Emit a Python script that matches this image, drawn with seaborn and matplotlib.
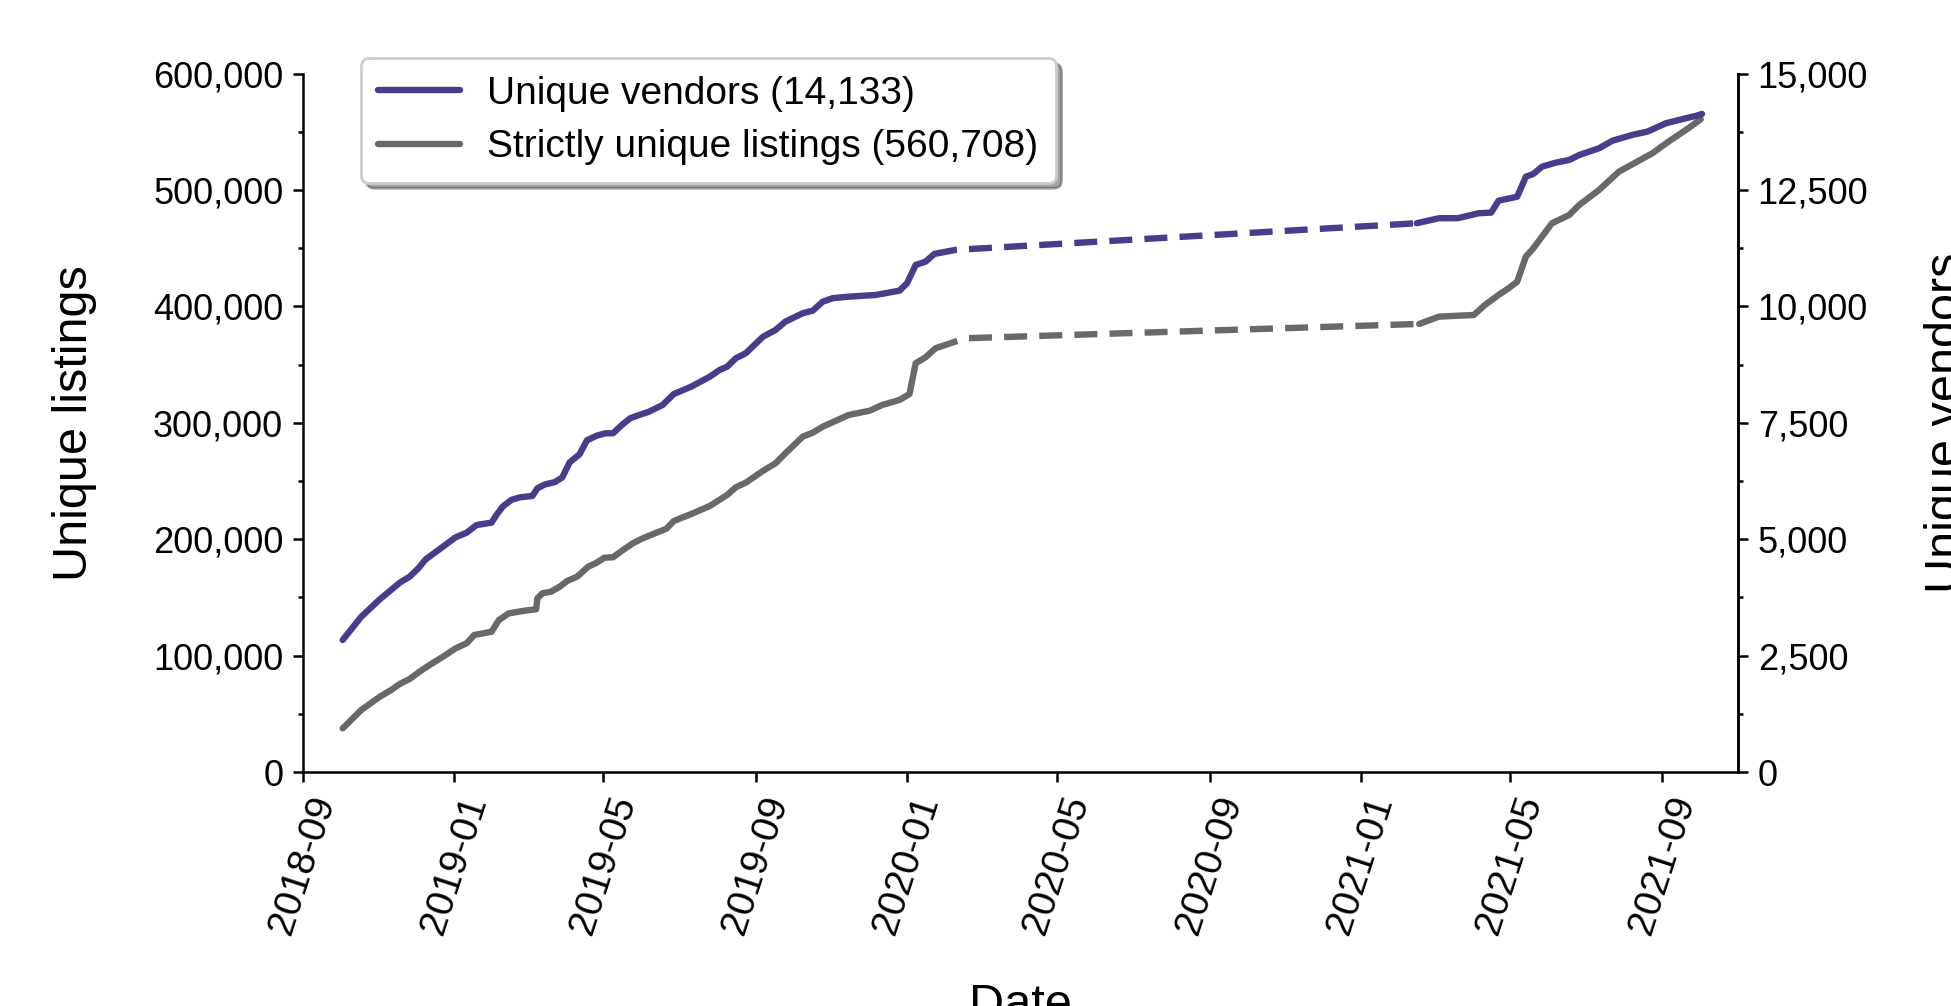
import pandas as pd
import matplotlib
matplotlib.use('Agg')
import matplotlib.pyplot as plt
import matplotlib.dates as mdates
import matplotlib.ticker as mticker
from matplotlib.lines import Line2D
import seaborn as sns

# Days since 2018-09-01
start_date = pd.Timestamp('2018-09-01')

# Unique vendors (right axis) - solid / dashed gap / solid
vendor_days_a = [32, 47, 62, 71, 78, 86, 93, 99, 110, 123, 132, 140, 152, 156, 161, 168, 175, 185, 189, 195,
                 203, 209, 215, 223, 229, 237, 244, 250, 257, 264, 272, 279, 290, 299, 313, 328, 336, 342, 349, 357,
                 371, 381, 389, 403, 411, 419, 427, 440, 462, 481, 487, 494, 502, 509]
vendors_a = [2835, 3335, 3710, 3910, 4065, 4195, 4375, 4568, 4783, 5040, 5140, 5305, 5355, 5520, 5700, 5843, 5900, 5928, 6093, 6175,
             6225, 6325, 6650, 6825, 7125, 7225, 7275, 7275, 7450, 7600, 7675, 7738, 7883, 8118, 8275, 8490, 8635, 8705, 8885, 8993,
             9350, 9493, 9673, 9853, 9908, 10100, 10175, 10208, 10245, 10338, 10495, 10890, 10960, 11125]
vendor_days_b = [509, 526, 898]
vendors_b = [11125, 11213, 11785]
vendor_days_c = [898, 916, 931, 948, 958, 964, 979, 986, 992, 999, 1010, 1021, 1029, 1045, 1056, 1072, 1084, 1099, 1117, 1123, 1128]
vendors_c = [11785, 11893, 11893, 12000, 12013, 12270, 12355, 12785, 12843, 13000, 13085, 13145, 13250, 13395, 13560, 13683,
             13753, 13933, 14053, 14090, 14133]

# Strictly unique listings (left axis)
listing_days_a = [32, 47, 62, 71, 78, 86, 94, 102, 113, 123, 132, 138, 152, 158, 166, 177, 188, 189, 193, 200,
                  207, 213, 221, 230, 236, 243, 250, 258, 266, 274, 286, 293, 299, 313, 328, 342, 349, 357, 371, 381,
                  389, 403, 411, 419, 440, 457, 467, 481, 489, 494, 502, 510]
listings_a = [37500, 53300, 64700, 70400, 75600, 79900, 86200, 91900, 99100, 106200, 110600, 117700, 120500, 130600, 136300,
              138300, 139800, 149200, 153500, 154900, 159200, 164100, 167800, 176400, 179300, 184100, 184500, 190700, 196500,
              200800, 206000, 209000, 215600, 221600, 228500, 238000, 244600, 248500, 258800, 265200, 273800, 288100, 291500,
              296600, 306700, 310400, 315300, 319600, 324700, 351100, 356300, 364000]
listing_days_b = [510, 517, 534, 900]
listings_b = [364000, 366500, 372600, 384900]
listing_days_c = [900, 916, 944, 953, 964, 972, 979, 986, 992, 1007, 1021, 1029, 1045, 1061, 1088, 1101, 1117, 1127]
listings_c = [384900, 391200, 392600, 401200, 409800, 415500, 421200, 442700, 449900, 471400, 478500, 487100, 500000,
              515700, 531500, 541500, 553000, 560708]

legend_labels = ['Unique vendors (14,133)', 'Strictly unique listings (560,708)']


def to_dates(days):
    return start_date + pd.to_timedelta(days, unit='D')


sns.set_style('ticks')
plt.rcParams['font.family'] = ['Liberation Sans', 'DejaVu Sans']
for key in ['text.color', 'axes.labelcolor', 'xtick.color', 'ytick.color', 'axes.edgecolor']:
    plt.rcParams[key] = 'black'

purple = '#483D8B'
grey = '#696969'
lw = 2.3
dashed = (0, (3.6, 1.9))

fig, ax = plt.subplots(figsize=(9.755, 5.03), dpi=200)
fig.subplots_adjust(left=0.1553, right=0.8908, top=0.9269, bottom=0.2326)
ax2 = ax.twinx()

# listings on the left axis
sns.lineplot(x=to_dates(listing_days_a), y=listings_a, ax=ax, color=grey, linewidth=lw, estimator=None)
sns.lineplot(x=to_dates(listing_days_b), y=listings_b, ax=ax, color=grey, linewidth=lw, estimator=None, linestyle=dashed)
sns.lineplot(x=to_dates(listing_days_c), y=listings_c, ax=ax, color=grey, linewidth=lw, estimator=None)

# vendors on the right axis
sns.lineplot(x=to_dates(vendor_days_a), y=vendors_a, ax=ax2, color=purple, linewidth=lw, estimator=None)
sns.lineplot(x=to_dates(vendor_days_b), y=vendors_b, ax=ax2, color=purple, linewidth=lw, estimator=None, linestyle=dashed)
sns.lineplot(x=to_dates(vendor_days_c), y=vendors_c, ax=ax2, color=purple, linewidth=lw, estimator=None)

ax.set_xlim(pd.Timestamp('2018-09-01'), pd.Timestamp('2021-11-01'))
ax.set_ylim(0, 600000)
ax2.set_ylim(0, 15000)

ax.xaxis.set_major_locator(mdates.MonthLocator(bymonth=[1, 5, 9]))
ax.xaxis.set_major_formatter(mdates.DateFormatter('%Y-%m'))
ax.yaxis.set_major_locator(mticker.MultipleLocator(100000))
ax.yaxis.set_minor_locator(mticker.MultipleLocator(50000))
ax.yaxis.set_major_formatter(mticker.StrMethodFormatter('{x:,.0f}'))
ax2.yaxis.set_major_locator(mticker.MultipleLocator(2500))
ax2.yaxis.set_minor_locator(mticker.MultipleLocator(1250))
ax2.yaxis.set_major_formatter(mticker.StrMethodFormatter('{x:,.0f}'))

for a in (ax, ax2):
    a.tick_params(which='major', length=3.6, width=0.9, direction='out', colors='black')
    a.tick_params(which='minor', length=1.8, width=0.9, direction='out', colors='black')
    a.spines['top'].set_visible(False)
    for s in a.spines.values():
        s.set_linewidth(0.9)
ax.tick_params(axis='y', labelsize=13)
ax2.tick_params(axis='y', labelsize=13)
ax.tick_params(axis='x', labelsize=14, labelrotation=72)
ax2.spines['left'].set_visible(False)
ax2.spines['bottom'].set_visible(False)

ax.set_xlabel('Date', fontsize=17.5, labelpad=16)
ax.set_ylabel('Unique listings', fontsize=17.5, labelpad=20)
ax2.set_ylabel('Unique vendors', fontsize=17.5, labelpad=20)

handles = [Line2D([], [], color=purple, linewidth=lw), Line2D([], [], color=grey, linewidth=lw)]
leg = ax2.legend(handles, legend_labels, loc='upper left', bbox_to_anchor=(0.0404, 1.022), borderaxespad=0,
                 fontsize=14, frameon=True, fancybox=True, shadow=True, framealpha=1, edgecolor='#cccccc',
                 handlelength=2.1, handletextpad=0.7, labelspacing=0.45, borderpad=0.45)

fig.savefig('out.png', dpi=200)
